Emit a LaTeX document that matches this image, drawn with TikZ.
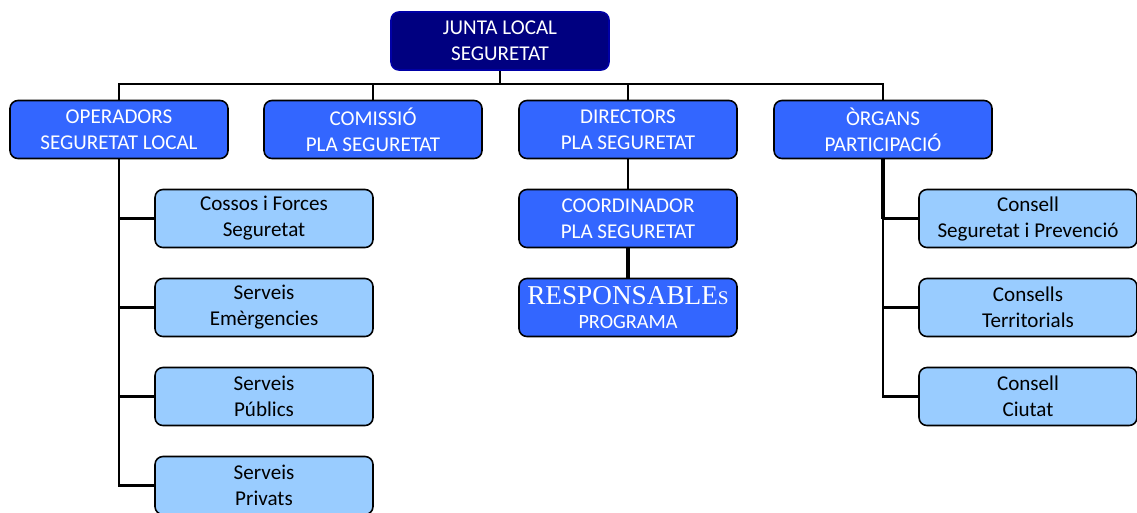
\documentclass[tikz,border=0pt]{standalone}
\usepackage{fontspec}
\setmainfont{Carlito}
\newfontfamily\timesfam{Liberation Serif}
\usepackage{tikz}
\usetikzlibrary{positioning, calc}

\definecolor{navy}{HTML}{000080}
\definecolor{midblue}{HTML}{3366FF}
\definecolor{lightblue}{HTML}{99CCFF}

\begin{document}
\begin{tikzpicture}[x=0.02cm, y=-0.02cm,
    box/.style={draw=black, line width=0.9pt, rounded corners=4.5pt, minimum width=4.36cm, minimum height=1.16cm,
      align=center, inner sep=0pt, font=\fontsize{12}{14.8}\selectfont},
    topbox/.style={box, fill=navy, draw=navy!70!blue, text=white},
    mainbox/.style={box, fill=midblue, text=white},
    subbox/.style={box, fill=lightblue, text=black},
    link/.style={line width=1.6pt, black},
    thicklink/.style={line width=2.8pt, black}]
  \useasboundingbox (0,0) rectangle (1137,512);

  % top level
  \node[topbox] (junta) at (500,41) {JUNTA LOCAL\\SEGURETAT};
  \coordinate (bus) at (500,84);

  % second level
  \node[mainbox] (operadors) at (119,129.5) {OPERADORS\\SEGURETAT LOCAL};
  \node[mainbox] (comissio) at (373,129.5) {COMISSIÓ\\PLA SEGURETAT};
  \node[mainbox] (directors) at (628,129.5) {DIRECTORS\\PLA SEGURETAT};
  \node[mainbox] (organs) at (883,129.5) {ÒRGANS\\PARTICIPACIÓ};

  % operadors branch
  \node[subbox] (cossos) at (264,218.5) {Cossos i Forces\\Seguretat};
  \node[subbox] (emergencies) at (264,307.5) {Serveis\\Emèrgencies};
  \node[subbox] (publics) at (264,396.5) {Serveis\\Públics};
  \node[subbox] (privats) at (264,485.5) {Serveis\\Privats};

  % directors branch
  \node[mainbox] (coordinador) at (628,218.5) {COORDINADOR\\PLA SEGURETAT};
  \node[mainbox, font=\fontsize{11.5}{13.6}\selectfont] (responsables) at (628,307.5)
    {{\timesfam\fontsize{15.5}{15.5}\selectfont RESPONSABLE\fontsize{11}{11}\selectfont S}\\[0pt]PROGRAMA};

  % organs branch
  \node[subbox] (consell) at (1028,218.5) {Consell\\Seguretat i Prevenció};
  \node[subbox] (territorials) at (1028,307.5) {Consells\\Territorials};
  \node[subbox] (ciutat) at (1028,396.5) {Consell\\Ciutat};

  % connectors
  \draw[link] (junta.south) -- (bus);
  \draw[link] (operadors.north) -- (operadors.north |- bus) -- (organs.north |- bus) -- (organs.north);
  \draw[link] (comissio.north) -- (comissio.north |- bus);
  \draw[link] (directors.north) -- (directors.north |- bus);

  \draw[link] (operadors.south) -- (operadors.south |- privats.west) -- (privats.west);
  \foreach \n in {cossos, emergencies, publics}
    \draw[link] (\n.west) -- (\n.west -| operadors.south);

  \draw[link] (directors.south) -- (coordinador.north);
  \draw[thicklink] (coordinador.south) -- (responsables.north);

  \draw[thicklink] (organs.south) -- (organs.south |- consell.west);
  \draw[link] (organs.south |- consell.west) -- (organs.south |- ciutat.west) -- (ciutat.west);
  \foreach \n in {consell, territorials}
    \draw[link] (\n.west) -- (\n.west -| organs.south);
\end{tikzpicture}
\end{document}
